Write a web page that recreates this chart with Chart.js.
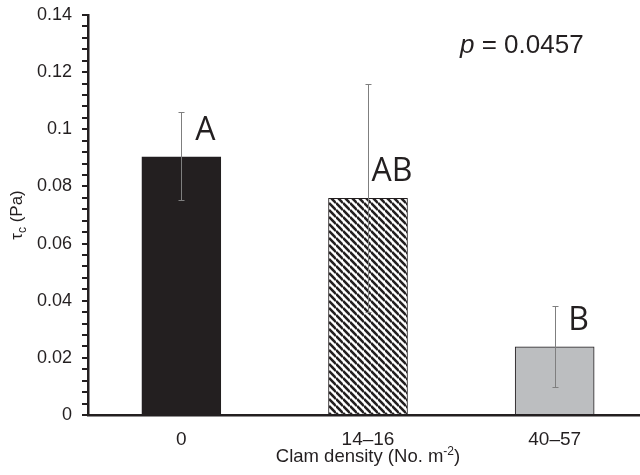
<!DOCTYPE html>
<html>
<head>
<meta charset="utf-8">
<script src="https://cdn.jsdelivr.net/npm/chart.js@4"></script>
<style>
html, body { margin: 0; padding: 0; overflow: hidden; background: #fff; }
</style>
</head>
<body>
<canvas id="tau-chart" width="648" height="475"></canvas>
<script>
const categories = ['0', '14–16', '40–57'];
const tauMean = [0.0904, 0.0758, 0.0239];
const tauLow = [0.0753, 0.0362, 0.0097];
const tauHigh = [0.1060, 0.1159, 0.0383];
const groupLetters = ['A', 'AB', 'B'];
const yTicks = [0, 0.02, 0.04, 0.06, 0.08, 0.1, 0.12, 0.14];
const pValue = '0.0457';

const ink = '#231f20';
const sans = '"Liberation Sans", Arial';

function makeHatch() {
    const s = 7;
    const c = document.createElement('canvas');
    c.width = s;
    c.height = s;
    const g = c.getContext('2d');
    g.fillStyle = '#fff';
    g.fillRect(0, 0, s, s);
    g.strokeStyle = ink;
    g.lineWidth = 2.6;
    for (let k = -1; k <= 1; k++) {
        g.beginPath();
        g.moveTo(0, k * s);
        g.lineTo(s, s + k * s);
        g.stroke();
    }
    return g.createPattern(c, 'repeat');
}

// error bars, letters, p value and axis titles
const extras = {
    id: 'extras',
    afterDatasetsDraw(chart) {
        const ctx = chart.ctx;
        const xs = chart.scales.x;
        const ys = chart.scales.y;
        const area = chart.chartArea;
        ctx.save();

        ctx.strokeStyle = '#7f7f7f';
        ctx.lineWidth = 1;
        categories.forEach((c, i) => {
            const px = Math.round(xs.getPixelForValue(i)) + 0.5;
            const top = Math.round(ys.getPixelForValue(tauHigh[i])) + 0.5;
            const bot = Math.round(ys.getPixelForValue(tauLow[i])) + 0.5;
            ctx.beginPath();
            ctx.moveTo(px, top); ctx.lineTo(px, bot);
            ctx.moveTo(px - 3, top); ctx.lineTo(px + 3, top);
            ctx.moveTo(px - 3, bot); ctx.lineTo(px + 3, bot);
            ctx.stroke();
        });

        ctx.fillStyle = ink;
        ctx.textBaseline = 'alphabetic';
        ctx.textAlign = 'center';
        ctx.font = '32px "Open Sans"';
        groupLetters.forEach((t, i) => {
            const px = xs.getPixelForValue(i) + 24;
            const py = ys.getPixelForValue(tauMean[i]) - 17;
            ctx.fillText(t, px, py);
        });

        // p value
        ctx.textAlign = 'left';
        let px = area.left + 372;
        const py = area.top + 38;
        ctx.font = 'italic 26px ' + sans;
        ctx.fillText('p', px, py);
        px += ctx.measureText('p').width;
        ctx.font = '26px ' + sans;
        ctx.fillText(' = ' + pValue, px, py);

        // x title with superscript
        const xt1 = 'Clam density (No. m', xsup = '-2', xt2 = ')';
        const big = '18.5px ' + sans;
        const small = '12px ' + sans;
        ctx.font = big;
        const w1 = ctx.measureText(xt1).width, w3 = ctx.measureText(xt2).width;
        ctx.font = small;
        const w2 = ctx.measureText(xsup).width;
        let tx = (area.left + area.right) / 2 - (w1 + w2 + w3) / 2;
        const ty = 462;
        ctx.font = big;
        ctx.fillText(xt1, tx, ty);
        tx += w1;
        ctx.font = small;
        ctx.fillText(xsup, tx, ty - 7);
        tx += w2;
        ctx.font = big;
        ctx.fillText(xt2, tx, ty);

        // y title with subscript
        const ybig = '17px ' + sans;
        ctx.translate(22, (area.top + area.bottom) / 2);
        ctx.rotate(-Math.PI / 2);
        ctx.font = ybig;
        const a = ctx.measureText('τ').width, cpart = ' (Pa)';
        const cw = ctx.measureText(cpart).width;
        ctx.font = small;
        const b = ctx.measureText('c').width;
        let yx = -(a + b + cw) / 2;
        ctx.font = ybig;
        ctx.fillText('τ', yx, 0);
        yx += a;
        ctx.font = small;
        ctx.fillText('c', yx, 4);
        yx += b;
        ctx.font = ybig;
        ctx.fillText(cpart, yx, 0);

        ctx.restore();
    }
};

const ctx = document.getElementById('tau-chart').getContext('2d');

new Chart(ctx, {
    type: 'bar',
    data: {
        labels: categories,
        datasets: [{
            data: tauMean,
            backgroundColor: [ink, makeHatch(), '#bcbec0'],
            borderColor: ink,
            borderWidth: 1,
            barThickness: 79
        }]
    },
    options: {
        responsive: false,
        animation: false,
        layout: { padding: { top: 15, right: 0, bottom: 0, left: 0 } },
        plugins: {
            legend: { display: false },
            tooltip: { enabled: false }
        },
        scales: {
            x: {
                border: { display: true, color: ink, width: 2.5 },
                grid: { display: false },
                ticks: {
                    padding: 5,
                    color: ink,
                    font: { family: sans, size: 19 }
                },
                afterFit(scale) { scale.height = 60; }
            },
            y: {
                min: 0,
                max: 0.14,
                border: { display: true, color: ink, width: 2.5 },
                grid: { drawOnChartArea: false, drawTicks: true, tickLength: 6, color: ink, lineWidth: 2 },
                ticks: {
                    stepSize: 0.004,
                    autoSkip: false,
                    padding: 10,
                    color: ink,
                    font: { family: sans, size: 18 },
                    callback: (v) => {
                        const m = yTicks.find(t => Math.abs(t - v) < 1e-6);
                        return m === undefined ? '' : String(m);
                    }
                },
                afterFit(scale) {
                    scale.width = 88;
                    scale.paddingTop = 0;
                    scale.paddingBottom = 0;
                }
            }
        }
    },
    plugins: [extras]
});
</script>
</body>
</html>
